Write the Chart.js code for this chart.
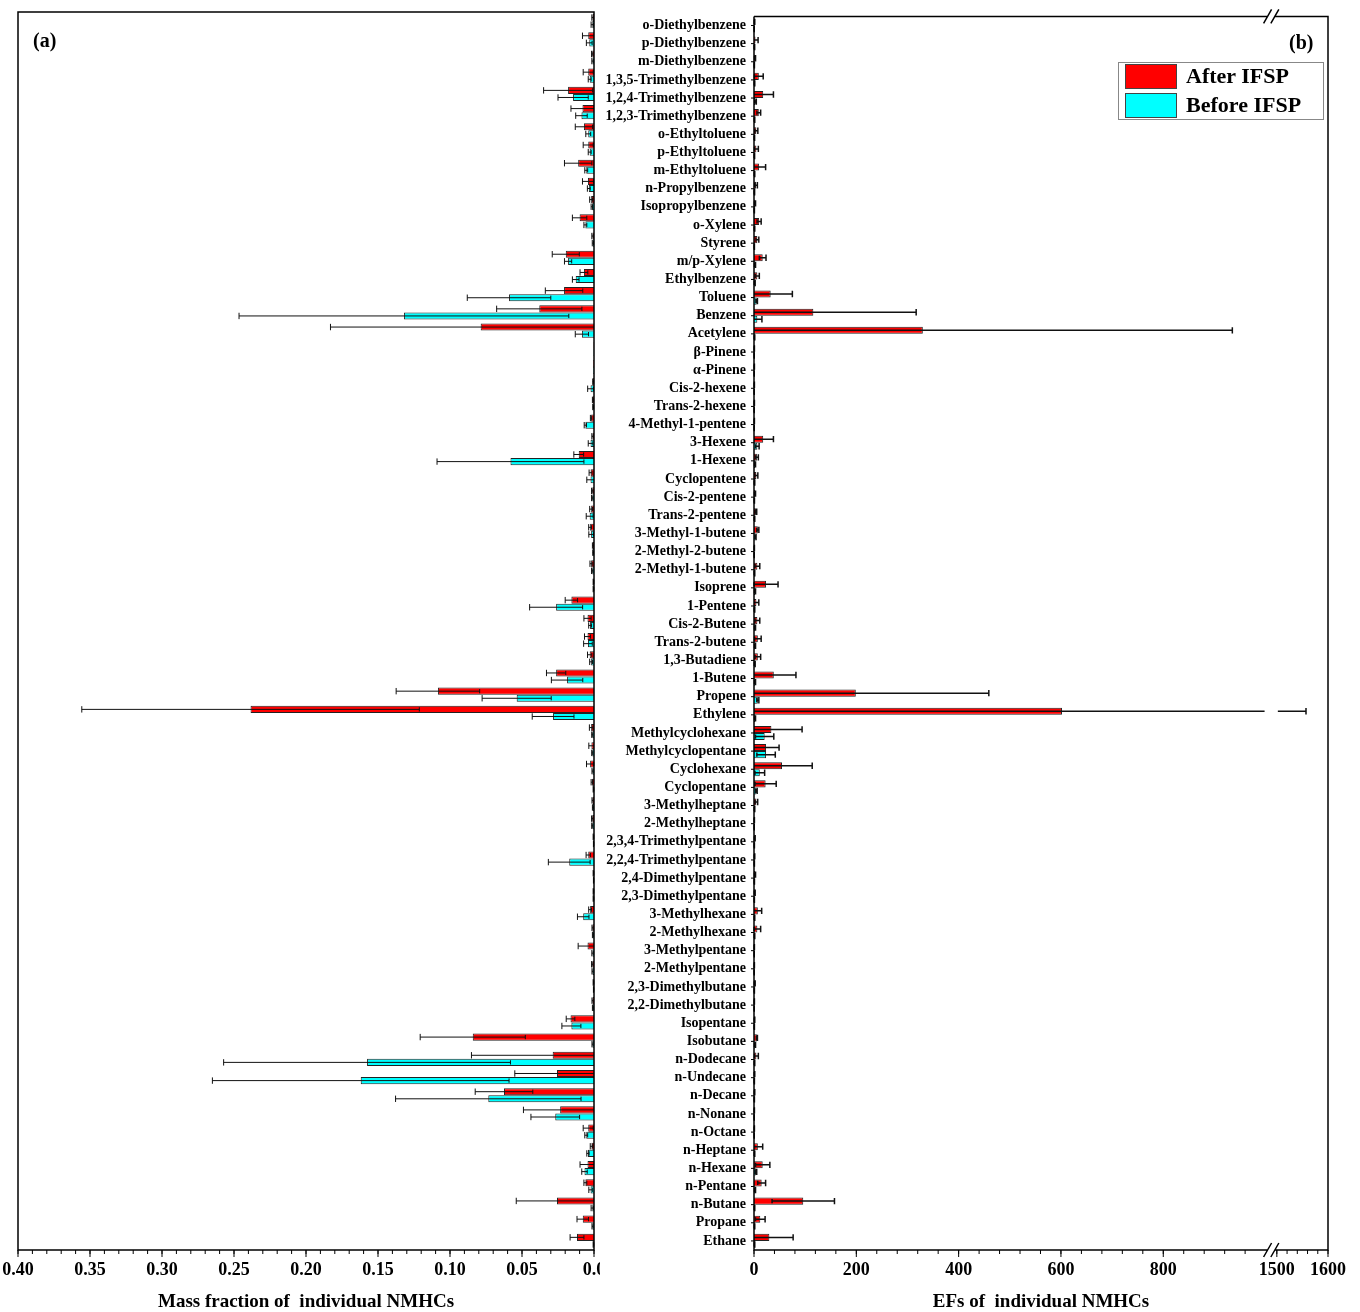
<!DOCTYPE html>
<html lang="en">
<head>
<meta charset="UTF-8">
<title>Individual NMHCs before and after IFSP</title>
<script src="https://cdn.jsdelivr.net/npm/chart.js"></script>
<style>
  body { margin: 0; background: #fff; }
  #wrap { position: relative; width: 1360px; height: 1312px; font-family: "Liberation Serif", "Times New Roman", serif; }
  #boxA { position: absolute; left: 0; top: 0; }
  #boxB { position: absolute; left: 600px; top: 0; }
  .tag { position: absolute; font-weight: bold; font-size: 20px; line-height: 20px; }
  #legend { position: absolute; left: 1118px; top: 62px; width: 204px; height: 56px; border: 1px solid #888; background: #fff; }
  #legend div { position: absolute; left: 6px; width: 52px; height: 25px; border: 1px solid #444; box-sizing: border-box; }
  #legend span { position: absolute; left: 67px; font-weight: bold; font-size: 22px; line-height: 26px; }
</style>
</head>
<body>
<div id="wrap">
  <canvas id="boxA" width="600" height="1312"></canvas>
  <canvas id="boxB" width="760" height="1312"></canvas>
  <div class="tag" style="left:33px; top:30px;">(a)</div>
  <div class="tag" style="left:1289px; top:32px;">(b)</div>
  <div id="legend">
    <div style="top:1px; background:#ff0000;"></div><span style="top:0px;">After IFSP</span>
    <div style="top:30px; background:#00ffff;"></div><span style="top:29px;">Before IFSP</span>
  </div>
</div>
<script>
// categories, top to bottom
const species = [
  'o-Diethylbenzene', 'p-Diethylbenzene', 'm-Diethylbenzene', '1,3,5-Trimethylbenzene',
  '1,2,4-Trimethylbenzene', '1,2,3-Trimethylbenzene', 'o-Ethyltoluene', 'p-Ethyltoluene',
  'm-Ethyltoluene', 'n-Propylbenzene', 'Isopropylbenzene', 'o-Xylene', 'Styrene',
  'm/p-Xylene', 'Ethylbenzene', 'Toluene', 'Benzene', 'Acetylene', 'β-Pinene', 'α-Pinene',
  'Cis-2-hexene', 'Trans-2-hexene', '4-Methyl-1-pentene', '3-Hexene', '1-Hexene',
  'Cyclopentene', 'Cis-2-pentene', 'Trans-2-pentene', '3-Methyl-1-butene', '2-Methyl-2-butene',
  '2-Methyl-1-butene', 'Isoprene', '1-Pentene', 'Cis-2-Butene', 'Trans-2-butene',
  '1,3-Butadiene', '1-Butene', 'Propene', 'Ethylene', 'Methylcyclohexane',
  'Methylcyclopentane', 'Cyclohexane', 'Cyclopentane', '3-Methylheptane', '2-Methylheptane',
  '2,3,4-Trimethylpentane', '2,2,4-Trimethylpentane', '2,4-Dimethylpentane',
  '2,3-Dimethylpentane', '3-Methylhexane', '2-Methylhexane', '3-Methylpentane',
  '2-Methylpentane', '2,3-Dimethylbutane', '2,2-Dimethylbutane', 'Isopentane', 'Isobutane',
  'n-Dodecane', 'n-Undecane', 'n-Decane', 'n-Nonane', 'n-Octane', 'n-Heptane', 'n-Hexane',
  'n-Pentane', 'n-Butane', 'Propane', 'Ethane'
];

// (a) mass fraction
const mfAfter = [
  0.001, 0.004, 0.0012, 0.004, 0.018, 0.008, 0.007, 0.004, 0.011, 0.0042, 0.002, 0.010, 0.001,
  0.0196, 0.007, 0.0208, 0.038, 0.0787, 0.0003, 0.0005, 0.0006, 0.0008, 0.002, 0.001, 0.0106,
  0.0024, 0.0012, 0.002, 0.0027, 0.0008, 0.002, 0.0004, 0.0157, 0.0045, 0.0045, 0.003, 0.0263,
  0.1084, 0.2385, 0.002, 0.0018, 0.0027, 0.0015, 0.001, 0.0012, 0.0004, 0.004, 0.0004, 0.0004,
  0.0027, 0.001, 0.0045, 0.0012, 0.0004, 0.001, 0.0163, 0.0842, 0.0287, 0.0257, 0.0625, 0.0235,
  0.004, 0.0018, 0.0045, 0.006, 0.0257, 0.0078, 0.0118
];
const mfAfterSd = [
  0.0005, 0.004, 0.0005, 0.0035, 0.017, 0.008, 0.006, 0.0035, 0.0095, 0.0038, 0.001, 0.005, 0.0005,
  0.0094, 0.0027, 0.013, 0.0296, 0.1043, 0, 0, 0.0003, 0.0003, 0.0005, 0.0005, 0.0034,
  0.001, 0.0005, 0.001, 0.001, 0.0003, 0.0008, 0.0002, 0.0043, 0.0025, 0.0021, 0.0015, 0.0067,
  0.029, 0.1172, 0.0012, 0.0018, 0.0025, 0.0005, 0.0004, 0.0005, 0.0002, 0.0015, 0.0002, 0.0002,
  0.001, 0.0004, 0.0065, 0.0005, 0.0002, 0.0004, 0.003, 0.0365, 0.0564, 0.0293, 0.02, 0.0255,
  0.0035, 0.0008, 0.0052, 0.001, 0.0283, 0.004, 0.0048
];
const mfBefore = [
  0.0012, 0.0033, 0.001, 0.003, 0.0145, 0.0087, 0.004, 0.003, 0.0054, 0.0036, 0.0015, 0.006, 0.0008,
  0.018, 0.0127, 0.059, 0.132, 0.0084, 0.0003, 0.0005, 0.0024, 0.0006, 0.006, 0.0024, 0.058,
  0.0024, 0.0012, 0.003, 0.002, 0.0006, 0.0012, 0.0004, 0.0263, 0.0027, 0.0042, 0.002, 0.0187,
  0.0537, 0.0284, 0.0012, 0.0012, 0.001, 0.0004, 0.0008, 0.0012, 0.0003, 0.0172, 0.0003, 0.0004,
  0.0075, 0.0008, 0.001, 0.001, 0.0003, 0.0008, 0.0157, 0.001, 0.1576, 0.162, 0.0734, 0.0269,
  0.0054, 0.0042, 0.0066, 0.0024, 0.0012, 0.001, 0.0004
];
const mfBeforeSd = [
  0.0008, 0.002, 0.0005, 0.001, 0.0105, 0.004, 0.0017, 0.001, 0.001, 0.001, 0.0005, 0.001, 0.0004,
  0.0025, 0.0023, 0.029, 0.1145, 0.0046, 0, 0, 0.002, 0.0003, 0.0008, 0.0016, 0.051,
  0.0026, 0.0005, 0.0024, 0.0016, 0.0003, 0.0005, 0.0002, 0.0184, 0.001, 0.003, 0.001, 0.0109,
  0.024, 0.0145, 0.0004, 0.0004, 0.0004, 0.0002, 0.0003, 0.0004, 0.0001, 0.0145, 0.0001, 0.0002,
  0.004, 0.0003, 0.0005, 0.0004, 0.0001, 0.0003, 0.0066, 0.0004, 0.0996, 0.103, 0.0644, 0.0169,
  0.001, 0.0008, 0.0019, 0.0012, 0.0008, 0.0004, 0.0002
];

// (b) emission factors
const efAfter = [
  1, 3, 2, 9.4, 18, 9.4, 4.7, 4.7, 10, 4, 2, 10, 6.6, 17, 6.5, 32.6, 116, 330, 0.5, 0.5,
  0.5, 0.5, 0.5, 18, 5.7, 4.7, 2, 3.8, 7.5, 0.5, 6.6, 23.6, 4.7, 6.6, 7.5, 7.5, 38.7, 199,
  602, 34, 23.6, 54.8, 22.7, 4.7, 0.5, 1.5, 1, 2, 1.5, 7.5, 6.6, 0.5, 0.5, 1.5, 0.5, 1,
  5.7, 4.7, 1, 1, 0.5, 0.5, 7.5, 17, 15, 96.3, 12.3, 30
];
const efAfterSd = [
  0.5, 5, 1, 8.6, 20, 3.6, 2.8, 3.8, 12.7, 2.6, 1, 4, 2.8, 6.5, 3.9, 42.4, 201, 605, 0.3, 0.3,
  0.3, 0.3, 0.3, 20, 2.8, 2.8, 1, 1.5, 2, 0.3, 4.7, 23.4, 4.7, 4.7, 6.5, 5.5, 43.3, 260,
  955, 60, 25.4, 59, 20.7, 2.5, 0.3, 0.8, 0.5, 1, 0.8, 7.5, 6.4, 0.3, 0.3, 0.8, 0.3, 0.5,
  1, 3.8, 0.5, 0.5, 0.3, 0.3, 9.5, 14, 7.7, 61, 9.4, 46.5
];
const efBefore = [
  0.3, 0.8, 0.5, 1, 3, 1, 0.8, 0.8, 1, 0.8, 0.5, 1, 0.5, 2, 1.5, 5.2, 6.5, 1, 0.3, 0.3,
  0.3, 0.3, 0.3, 6.6, 2, 1, 0.6, 1, 3, 0.3, 1, 2, 1, 2, 2, 1.5, 2, 7.5,
  2, 20.8, 23.6, 11.3, 4.7, 1, 0.3, 0.5, 0.5, 0.6, 0.5, 1, 1, 0.3, 0.3, 0.5, 0.3, 0.5,
  2, 1, 0.5, 0.5, 0.3, 0.3, 1, 3.8, 2, 1, 1, 1
];
const efBeforeSd = [
  0.2, 0.5, 0.3, 0.5, 1.5, 0.5, 0.4, 0.4, 0.5, 0.4, 0.3, 0.5, 0.3, 1, 0.8, 1.5, 9, 0.5, 0.2, 0.2,
  0.2, 0.2, 0.2, 3.4, 1, 0.5, 0.3, 0.5, 1, 0.2, 0.5, 1, 0.5, 1, 1, 0.8, 1, 2,
  1, 17.9, 18, 9.5, 1.5, 0.5, 0.2, 0.3, 0.3, 0.3, 0.3, 0.5, 0.5, 0.2, 0.2, 0.3, 0.2, 0.3,
  1, 0.5, 0.3, 0.3, 0.2, 0.2, 0.5, 1.5, 1, 0.5, 0.5, 0.5
];

// tick labels
const mfTicks = [0, 0.05, 0.10, 0.15, 0.20, 0.25, 0.30, 0.35, 0.40];
const mfTickLabels = ['0.0', '0.05', '0.10', '0.15', '0.20', '0.25', '0.30', '0.35', '0.40'];
const efTicks = [0, 200, 400, 600, 800, 1500, 1600];
const efTickLabels = ['0', '200', '400', '600', '800', '1500', '1600'];

const RED = '#ff0000', CYAN = '#00ffff';
Chart.defaults.font.family = '"Liberation Serif", "Times New Roman", serif';
Chart.defaults.font.weight = 'bold';
Chart.defaults.color = '#000';

// broken x axis for panel (b): 0-1000 then 1500-1600
const BRK_LO = 1000, BRK_HI = 1500, BRK_GAP = 22;
function fold(v) {
  if (v <= BRK_LO) return v;
  if (v >= BRK_HI) return v - (BRK_HI - BRK_LO) + BRK_GAP;
  return BRK_LO + (v - BRK_LO) * BRK_GAP / (BRK_HI - BRK_LO);
}
class BrokenLinear extends Chart.LinearScale {
  getPixelForValue(v) {
    const a = fold(this.min), b = fold(this.max);
    return this.getPixelForDecimal((fold(v) - a) / (b - a));
  }
}
BrokenLinear.id = 'brokenLinear';
BrokenLinear.defaults = Chart.LinearScale.defaults;
Chart.register(BrokenLinear);

// error bars: line from max(0, v-sd) to v+sd with caps
const errorBars = {
  id: 'errorBars',
  afterDatasetsDraw(chart, args, opts) {
    const ctx = chart.ctx, xs = chart.scales.x;
    chart.data.datasets.forEach((ds, di) => {
      chart.getDatasetMeta(di).data.forEach((bar, i) => {
        const v = ds.data[i], e = ds.errors[i];
        if (!e) return;
        const lo = Math.max(0, v - e), hi = v + e;
        const y = bar.y, h = bar.height;
        ctx.save();
        ctx.strokeStyle = opts.color;
        ctx.lineWidth = opts.width;
        ctx.beginPath();
        if (opts.broken && lo < BRK_LO && hi > BRK_HI) {
          ctx.moveTo(xs.getPixelForValue(lo), y);
          ctx.lineTo(xs.getPixelForValue(BRK_LO) - 1, y);
          ctx.moveTo(xs.getPixelForValue(BRK_HI) + 1, y);
          ctx.lineTo(xs.getPixelForValue(hi), y);
        } else {
          ctx.moveTo(xs.getPixelForValue(lo), y);
          ctx.lineTo(xs.getPixelForValue(hi), y);
        }
        const xh = xs.getPixelForValue(hi);
        ctx.moveTo(xh, y - h * 0.45);
        ctx.lineTo(xh, y + h * 0.45);
        if (v - e > 0) {
          const xl = xs.getPixelForValue(lo);
          ctx.moveTo(xl, y - h * 0.3);
          ctx.lineTo(xl, y + h * 0.3);
        }
        ctx.stroke();
        ctx.restore();
      });
    });
  }
};

// frame, tick marks and axis break
const frame = {
  id: 'frame',
  afterDraw(chart, args, opts) {
    const ctx = chart.ctx, a = chart.chartArea, xs = chart.scales.x, ys = chart.scales.y;
    ctx.save();
    ctx.strokeStyle = '#000';
    ctx.lineWidth = 1.5;
    ctx.beginPath();
    if (opts.broken) {
      const g1 = xs.getPixelForValue(BRK_LO) + 2, g2 = xs.getPixelForValue(BRK_HI) - 2;
      ctx.moveTo(a.left, a.top); ctx.lineTo(a.left, a.bottom);
      ctx.lineTo(g1, a.bottom); ctx.moveTo(g2, a.bottom); ctx.lineTo(a.right, a.bottom);
      ctx.lineTo(a.right, a.top); ctx.lineTo(g2, a.top); ctx.moveTo(g1, a.top); ctx.lineTo(a.left, a.top);
      [a.top, a.bottom].forEach(yy => {
        [g1, g2].forEach(xx => {
          ctx.moveTo(xx - 4, yy + 7);
          ctx.lineTo(xx + 4, yy - 7);
        });
      });
    } else {
      ctx.rect(a.left, a.top, a.right - a.left, a.bottom - a.top);
    }
    ctx.stroke();
    ctx.lineWidth = 1;
    ctx.beginPath();
    opts.minor.forEach(v => {
      const x = xs.getPixelForValue(v);
      ctx.moveTo(x, a.bottom); ctx.lineTo(x, a.bottom + 4);
    });
    opts.major.forEach(v => {
      const x = xs.getPixelForValue(v);
      ctx.moveTo(x, a.bottom); ctx.lineTo(x, a.bottom + 7);
    });
    if (opts.catTicks) {
      chart.data.labels.forEach((l, i) => {
        const y = ys.getPixelForValue(i);
        ctx.moveTo(a.left, y); ctx.lineTo(a.left - 3, y);
      });
    }
    ctx.stroke();
    ctx.restore();
  }
};

function dropPad(s) { s.paddingLeft = 0; s.paddingRight = 0; }

function datasets(after, afterSd, before, beforeSd) {
  return [
    { label: 'After IFSP', data: after, errors: afterSd, backgroundColor: RED,
      borderColor: '#222', borderWidth: 1, categoryPercentage: 0.78, barPercentage: 1 },
    { label: 'Before IFSP', data: before, errors: beforeSd, backgroundColor: CYAN,
      borderColor: '#222', borderWidth: 1, categoryPercentage: 0.78, barPercentage: 1 }
  ];
}

const mfMinor = [];
for (let i = 0; i <= 40; i++) mfMinor.push(i / 100);
const efMinor = [];
for (let v = 0; v <= 960; v += 40) efMinor.push(v);
for (let v = 1500; v <= 1600; v += 20) efMinor.push(v);

new Chart(document.getElementById('boxA'), {
  type: 'bar',
  data: { labels: species, datasets: datasets(mfAfter, mfAfterSd, mfBefore, mfBeforeSd) },
  options: {
    indexAxis: 'y', responsive: false, animation: false,
    layout: { padding: { left: 18, top: 12, right: 0, bottom: 0 } },
    plugins: {
      legend: { display: false }, tooltip: { enabled: false },
      errorBars: { color: '#111', width: 1 },
      frame: { major: mfTicks, minor: mfMinor }
    },
    scales: {
      x: {
        reverse: true, min: 0, max: 0.4,
        grid: { display: false, drawTicks: false }, border: { display: false },
        afterBuildTicks: s => { s.ticks = mfTicks.map(v => ({ value: v })); },
        afterFit: s => { s.height = 62; dropPad(s); },
        ticks: { autoSkip: false, maxRotation: 0, padding: 10, font: { size: 18 },
                 callback: (v, i) => mfTickLabels[i] },
        title: { display: true, text: 'Mass fraction of  individual NMHCs', padding: 0,
                 font: { size: 19, lineHeight: 1 } }
      },
      y: {
        position: 'right',
        grid: { display: false, drawTicks: false }, border: { display: false },
        ticks: { display: false },
        afterFit: s => { s.width = 6; }
      }
    }
  },
  plugins: [errorBars, frame]
});

new Chart(document.getElementById('boxB'), {
  type: 'bar',
  data: { labels: species, datasets: datasets(efAfter, efAfterSd, efBefore, efBeforeSd) },
  options: {
    indexAxis: 'y', responsive: false, animation: false,
    layout: { padding: { left: 0, top: 12, right: 32, bottom: 0 } },
    plugins: {
      legend: { display: false }, tooltip: { enabled: false },
      errorBars: { color: '#111', width: 1.5, broken: true },
      frame: { major: efTicks, minor: efMinor, broken: true, catTicks: true }
    },
    scales: {
      x: {
        type: 'brokenLinear', min: 0, max: 1600,
        grid: { display: false, drawTicks: false }, border: { display: false },
        afterBuildTicks: s => { s.ticks = efTicks.map(v => ({ value: v })); },
        afterFit: s => { s.height = 62; dropPad(s); },
        ticks: { autoSkip: false, maxRotation: 0, padding: 10, font: { size: 18 },
                 callback: (v, i) => efTickLabels[i] },
        title: { display: true, text: 'EFs of  individual NMHCs', padding: 0,
                 font: { size: 19, lineHeight: 1 } }
      },
      y: {
        position: 'left',
        grid: { display: false, drawTicks: false }, border: { display: false },
        ticks: { autoSkip: false, padding: 8, font: { size: 14 } },
        afterFit: s => { s.width = 154; }
      }
    }
  },
  plugins: [errorBars, frame]
});
</script>
</body>
</html>
